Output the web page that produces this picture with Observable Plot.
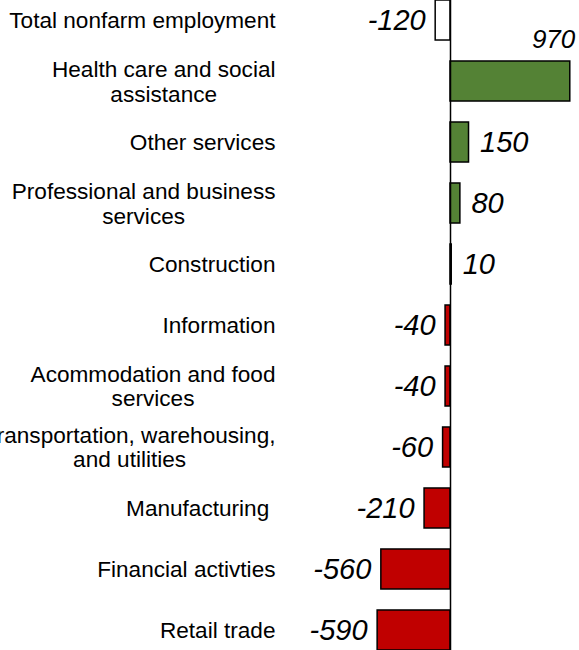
<!DOCTYPE html>
<html>
<head>
<meta charset="utf-8">
<script src="https://cdn.jsdelivr.net/npm/d3@7"></script>
<script src="https://cdn.jsdelivr.net/npm/@observablehq/plot@0.6"></script>
<style>
  html, body { margin: 0; padding: 0; background: white; }
  #chart svg text { white-space: pre; }
</style>
</head>
<body>
<div id="chart"></div>
<script>
const categories = [
  "Total nonfarm employment",
  "Health care and social\nassistance",
  "Other services",
  "Professional and business\nservices",
  "Construction",
  "Information",
  "Acommodation and food\nservices",
  "Transportation, warehousing,\nand utilities",
  "Manufacturing ",
  "Financial activties",
  "Retail trade"
];
const values = [-120, 970, 150, 80, 10, -40, -40, -60, -210, -560, -590];
const kinds = ["total", "change", "change", "change", "change", "change", "change", "change", "change", "change", "change"];

const data = categories.map((c, i) => ({category: c, value: values[i], kind: kinds[i]}));

const FONT = "'Liberation Sans', Arial, Helvetica, sans-serif";
const GREEN = "#548235", RED = "#C00000";
const fillOf = d => d.kind === "total" ? "white" : d.value > 0 ? GREEN : RED;
const LABEL_SIZE = 22.6;

const ctx = document.createElement("canvas").getContext("2d");
ctx.font = `${LABEL_SIZE}px ${FONT}`;
const blockWidth = c => Math.max(...c.split("\n").map(l => ctx.measureText(l).width));
const labelRight = 275;

const maxValue = d3.max(values);
const topRow = data.filter(d => d.value === maxValue);
const restRows = data.filter(d => d.value !== maxValue);

const chart = Plot.plot({
  width: 579,
  height: 650,
  marginTop: 0, marginBottom: 0, marginLeft: 0, marginRight: 0,
  style: {fontFamily: FONT, background: "white", color: "black"},
  x: {domain: [-600, 1000], range: [375.9, 573.5], axis: null},
  y: {domain: categories, range: [0, 650], paddingInner: 0.344, paddingOuter: 0, round: false, axis: null},
  color: {type: "identity"},
  marks: [
    Plot.barX(data, {x: "value", y: "category", fill: fillOf, stroke: "black", strokeWidth: 1.5}),
    Plot.ruleX([0], {stroke: "black", strokeWidth: 1.5}),
    ...data.map(d => Plot.text([d], {
      y: "category", text: "category", frameAnchor: "left", textAnchor: "middle",
      dx: labelRight - blockWidth(d.category) / 2,
      fontSize: LABEL_SIZE, lineHeight: 1.08, fill: "black"
    })),
    Plot.text(restRows.filter(d => d.value < 0), {
      x: "value", y: "category", text: d => String(d.value), textAnchor: "end",
      dx: -10, fontSize: 29, fontStyle: "italic", fill: "black"
    }),
    Plot.text(restRows.filter(d => d.value > 0), {
      x: "value", y: "category", text: d => String(d.value), textAnchor: "start",
      dx: 11, fontSize: 29, fontStyle: "italic", fill: "black"
    }),
    Plot.text(topRow, {
      x: "value", y: "category", text: d => String(d.value), textAnchor: "end",
      dx: 5, dy: -42, fontSize: 26, fontStyle: "italic", fill: "black"
    })
  ]
});
document.getElementById("chart").appendChild(chart);
</script>
</body>
</html>
